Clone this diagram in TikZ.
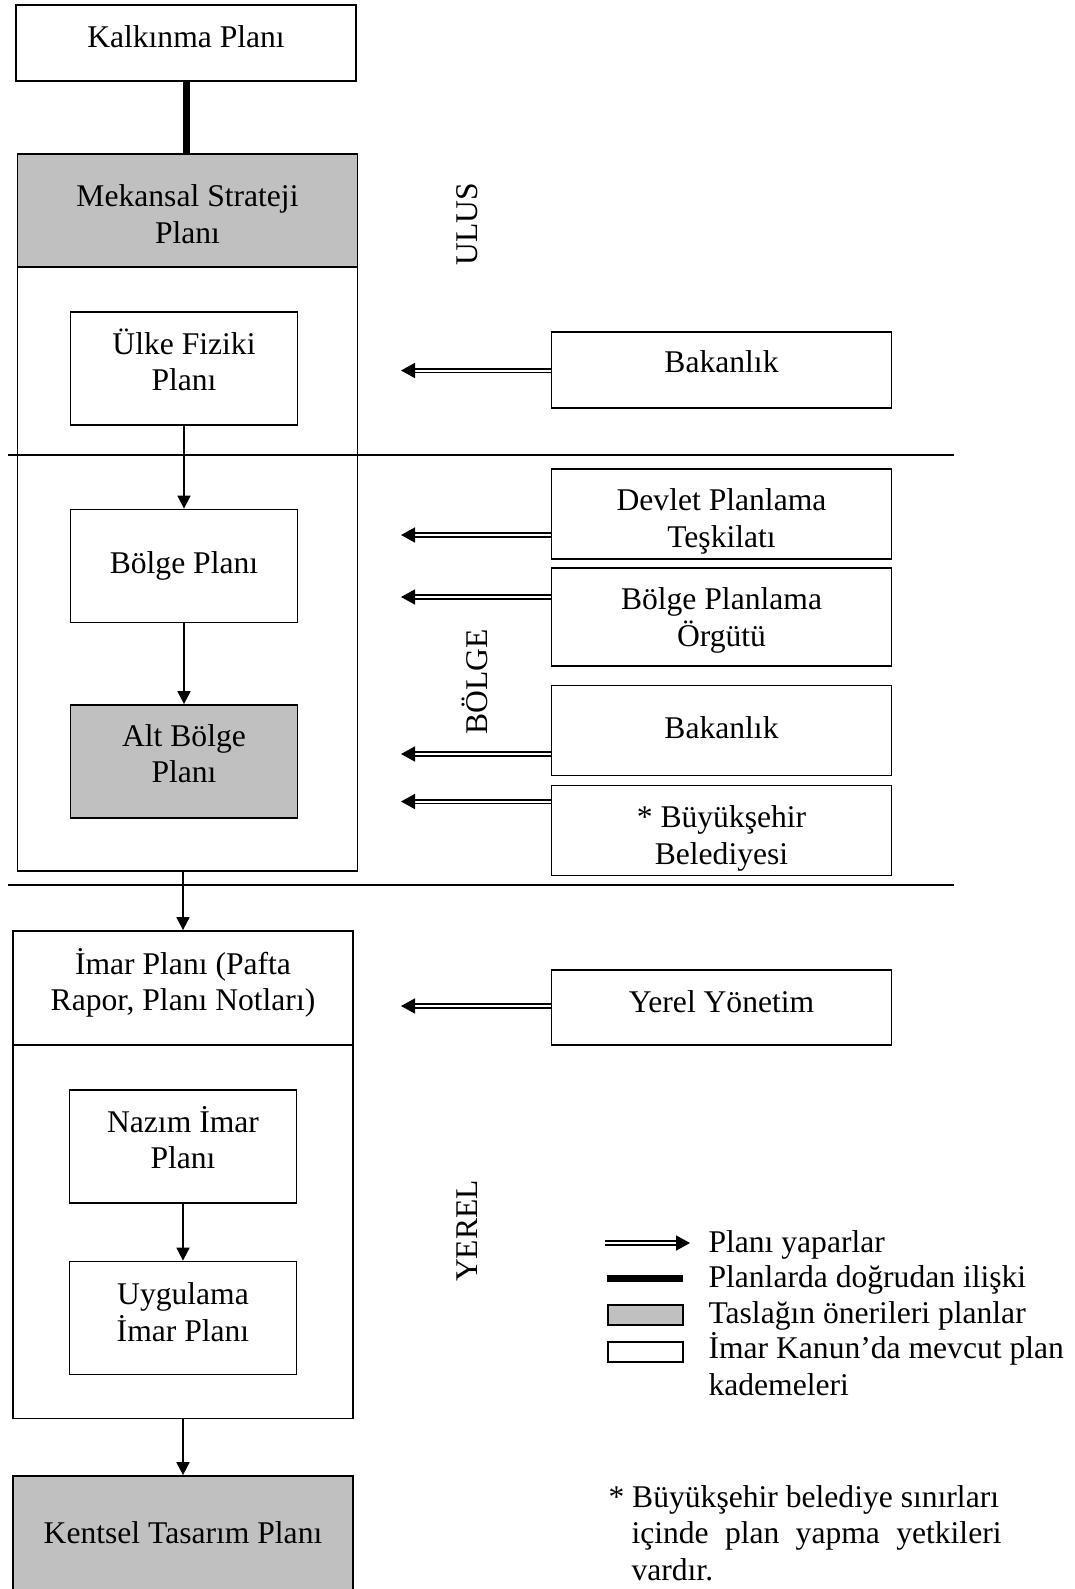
\documentclass[tikz,border=0pt]{standalone}
\usepackage{fontspec}
\setmainfont{Liberation Serif}
\usepackage{tikz}
\usetikzlibrary{arrows.meta, positioning}
\definecolor{plangri}{RGB}{192,192,192}
\newcommand{\yazi}{\fontsize{31.6}{36.5}\selectfont}
\tikzset{>={Triangle[length=13pt,width=13pt]}}
\tikzset{
	kutu/.style={draw, line width=1.8pt, inner sep=0pt, align=center},
	gri/.style={kutu, fill=plangri},
	ok/.style={->, line width=1.8pt},
	yapar/.style={-{Triangle[length=14pt,width=15pt]}, double, double distance=2pt, line width=1.6pt},
	sol/.style={kutu, minimum width=340pt},
	sag/.style={kutu, minimum width=340pt},
	ic/.style={minimum width=227pt, minimum height=113pt},
	kay/.style={text depth=#1},
	asagi/.style={text height=#1}
}

\begin{document}
\begin{tikzpicture}[x=1pt, y=-1pt, font=\yazi]
	\useasboundingbox (0,0) rectangle (1074,1589);

	\node	(KP)	[sol, minimum height=76pt, kay=12pt]	at	(186,43)	{Kalkınma Planı};
	\node	(U1)	[sol, minimum height=717pt]	at	(187.5,512.5)	{};
	\node	(MSP)	[gri, minimum width=340pt, minimum height=113pt, asagi=66pt]	at	(187.5,210.5)	{Mekansal Strateji\\Planı};
	\node	(UFP)	[kutu, ic, kay=18pt]	at	(184,368.5)	{Ülke Fiziki\\Planı};
	\node	(BP)	[kutu, ic]	at	(184,566)	{Bölge Planı};
	\node	(ABP)	[gri, ic, kay=16pt]	at	(184,761.5)	{Alt Bölge\\Planı};

	\node	(U2)	[sol, minimum height=487pt]	at	(183,1175)	{};
	\node	(IP)	[sol, minimum height=114pt, kay=17pt]	at	(183,988)	{İmar Planı (Pafta\\Rapor, Planı Notları)};
	\node	(NIP)	[kutu, ic, kay=18pt]	at	(183,1146.5)	{Nazım İmar\\Planı};
	\node	(UIP)	[kutu, ic, kay=12pt]	at	(183,1318)	{Uygulama\\İmar Planı};
	\node	(KTP)	[gri, minimum width=340pt, minimum height=120pt, kay=6pt]	at	(183,1536)	{Kentsel Tasarım Planı};

	\node	(B1)	[sag, minimum height=76pt, kay=16pt]	at	(721.5,370)	{Bakanlık};
	\node	(DPT)	[sag, minimum height=90pt, asagi=73pt]	at	(721.5,514)	{Devlet Planlama\\Teşkilatı};
	\node	(BPO)	[sag, minimum height=98pt, kay=-1pt]	at	(721.5,617)	{Bölge Planlama\\Örgütü};
	\node	(B2)	[sag, minimum height=90pt, kay=6pt]	at	(721.5,730.5)	{Bakanlık};
	\node	(BB)	[sag, minimum height=90pt, asagi=74pt]	at	(721.5,830.5)	{* Büyükşehir\\Belediyesi};
	\node	(YY)	[sag, minimum height=75pt, kay=12pt]	at	(721.5,1007.5)	{Yerel Yönetim};

	\node	(ULUS)	[rotate=90]	at	(467,224)	{ULUS};
	\node	(BOLGE)	[rotate=90]	at	(475,682)	{BÖLGE};
	\node	(YEREL)	[rotate=90]	at	(467,1231)	{YEREL};

	\draw[line width=1.5pt] (8,455) -- (954,455);
	\draw[line width=1.5pt] (8,885) -- (954,885);

	\draw[line width=7pt] (KP.south) -- (KP.south |- MSP.north);
	\draw[ok] (UFP) -- (BP);
	\draw[ok] (BP) -- (ABP);
	\draw[ok] (IP.north |- U1.south) -- (IP.north);
	\draw[ok] (NIP) -- (UIP);
	\draw[ok] (KTP.north |- U2.south) -- (KTP.north);

	\coordinate	(A1)	at	(401,370.5);
	\coordinate	(A2)	at	(401,535);
	\coordinate	(A3)	at	(401,597);
	\coordinate	(A4)	at	(401,754);
	\coordinate	(A5)	at	(401,801.5);
	\coordinate	(A6)	at	(401,1006);
	\draw[yapar] (A1 -| B1.west) -- (A1);
	\draw[yapar] (A2 -| DPT.west) -- (A2);
	\draw[yapar] (A3 -| BPO.west) -- (A3);
	\draw[yapar] (A4 -| B2.west) -- (A4);
	\draw[yapar] (A5 -| BB.west) -- (A5);
	\draw[yapar] (A6 -| YY.west) -- (A6);

	\coordinate	(L1)	at	(605,1243);
	\coordinate	(L2)	at	(690,1243);
	\coordinate	(L3)	at	(607,1278);
	\coordinate	(L4)	at	(683,1278);
	\draw[yapar] (L1) -- (L2);
	\draw[line width=7pt] (L3) -- (L4);
	\node	(LG)	[gri, minimum width=75pt, minimum height=20pt]	at	(645.5,1315)	{};
	\node	(LB)	[kutu, minimum width=75pt, minimum height=20pt]	at	(645.5,1352)	{};
	\node	(T1)	[anchor=base west]	at	(705,1252)	{Planı yaparlar};
	\node	(T2)	[anchor=base west]	at	(705,1287)	{Planlarda doğrudan ilişki};
	\node	(T3)	[anchor=base west]	at	(705,1323)	{Taslağın önerileri planlar};
	\node	(T4)	[anchor=base west, align=left]	at	(705,1395)	{İmar Kanun’da mevcut plan\\kademeleri};

	\node	(DN)	[anchor=base west, align=left]	at	(605,1580)	{* Büyükşehir belediye sınırları\\\hspace*{23pt}\makebox[370pt][s]{içinde plan yapma yetkileri}\\\hspace*{23pt}vardır.};
\end{tikzpicture}
\end{document}
